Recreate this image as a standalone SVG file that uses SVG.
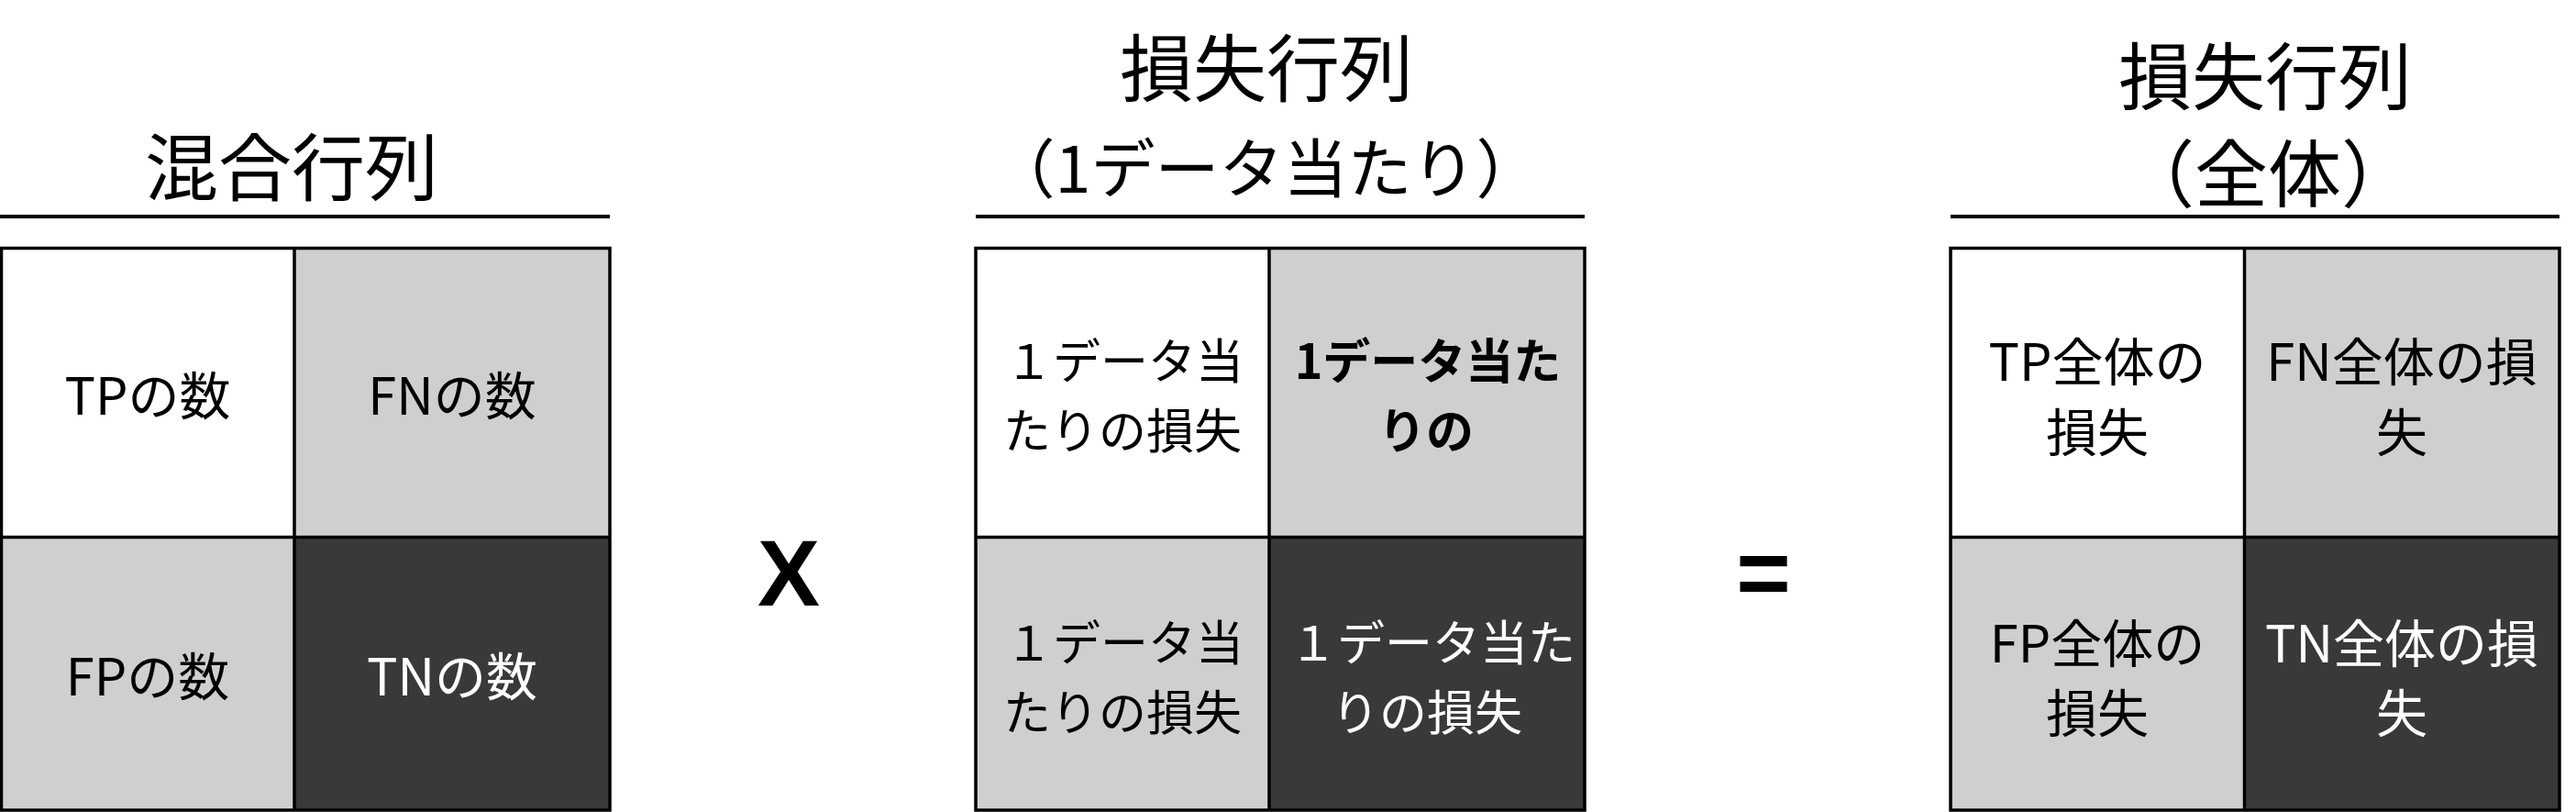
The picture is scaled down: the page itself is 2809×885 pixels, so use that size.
<svg xmlns="http://www.w3.org/2000/svg" width="2809" height="885" viewBox="0 0 2809 885">
<style>
text{font-family:"Noto Sans CJK JP","Noto Sans CJK SC",sans-serif;text-anchor:middle;fill:#000}
.t{font-size:80px}
.t2{font-size:70px}
.c{font-size:56px}
.m{font-size:52px}
.w{fill:#fff}
.b{font-weight:bold}
.op{font-family:"Liberation Sans",Arial,sans-serif;font-weight:bold;font-size:102px}
.ul{stroke:#000;stroke-width:4;fill:none}
.grid{stroke:#000;stroke-width:3.5;fill:none}
.white{fill:#fff}
.light{fill:#d0cece}
.dark{fill:#3b3838}
</style>
<rect width="2809" height="885" fill="#fff"/>

<g id="confusion-matrix">
<text class="t" x="318" y="212">混合行列</text>
<line class="ul" x1="0" y1="236" x2="665" y2="236"/>
<rect class="white" x="1.5" y="270.5" width="319.5" height="315"/>
<rect class="light" x="321" y="270.5" width="344" height="315"/>
<rect class="light" x="1.5" y="585.5" width="319.5" height="297.5"/>
<rect class="dark" x="321" y="585.5" width="344" height="297.5"/>
<rect class="grid" x="1.5" y="270.5" width="663.5" height="612.5"/>
<line class="grid" x1="321" y1="270.5" x2="321" y2="883"/>
<line class="grid" x1="1.5" y1="585.5" x2="665" y2="585.5"/>
<text class="c" x="161" y="452">TPの数</text>
<text class="c" x="493" y="452">FNの数</text>
<text class="c" x="161" y="758">FPの数</text>
<text class="c w" x="493" y="758">TNの数</text>
</g>

<g id="times">
<text class="op" x="860" y="660">X</text>
</g>

<g id="loss-matrix-per-data">
<text class="t" x="1381" y="104">損失行列</text>
<text class="t2" x="1380" y="210">（1データ当たり）</text>
<line class="ul" x1="1064" y1="236" x2="1728" y2="236"/>
<rect class="white" x="1064" y="270.5" width="320" height="315"/>
<rect class="light" x="1384" y="270.5" width="344" height="315"/>
<rect class="light" x="1064" y="585.5" width="320" height="297.5"/>
<rect class="dark" x="1384" y="585.5" width="344" height="297.5"/>
<rect class="grid" x="1064" y="270.5" width="664" height="612.5"/>
<line class="grid" x1="1384" y1="270.5" x2="1384" y2="883"/>
<line class="grid" x1="1064" y1="585.5" x2="1728" y2="585.5"/>
<text class="m" x="1226" y="413">１データ当</text>
<text class="m" x="1224" y="489">たりの損失</text>
<text class="m b" x="1557" y="413">1データ当た</text>
<text class="m b" x="1555" y="489">りの</text>
<text class="m" x="1226" y="720">１データ当</text>
<text class="m" x="1224" y="796">たりの損失</text>
<text class="m w" x="1562" y="720">１データ当た</text>
<text class="m w" x="1556" y="796">りの損失</text>
</g>

<g id="equals">
<text class="op" x="1923" y="660">=</text>
</g>

<g id="loss-matrix-total">
<text class="t" x="2470" y="113">損失行列</text>
<text class="t" x="2473" y="219">（全体）</text>
<line class="ul" x1="2127" y1="236" x2="2791" y2="236"/>
<rect class="white" x="2127" y="270.5" width="320.5" height="315"/>
<rect class="light" x="2447.5" y="270.5" width="343.5" height="315"/>
<rect class="light" x="2127" y="585.5" width="320.5" height="297.5"/>
<rect class="dark" x="2447.5" y="585.5" width="343.5" height="297.5"/>
<rect class="grid" x="2127" y="270.5" width="664" height="612.5"/>
<line class="grid" x1="2447.5" y1="270.5" x2="2447.5" y2="883"/>
<line class="grid" x1="2127" y1="585.5" x2="2791" y2="585.5"/>
<text class="c" x="2287" y="415">TP全体の</text>
<text class="c" x="2287" y="492">損失</text>
<text class="c" x="2619" y="415">FN全体の損</text>
<text class="c" x="2619" y="492">失</text>
<text class="c" x="2287" y="722">FP全体の</text>
<text class="c" x="2287" y="798">損失</text>
<text class="c w" x="2619" y="722">TN全体の損</text>
<text class="c w" x="2619" y="798">失</text>
</g>

<g id="connectors"></g>
</svg>
